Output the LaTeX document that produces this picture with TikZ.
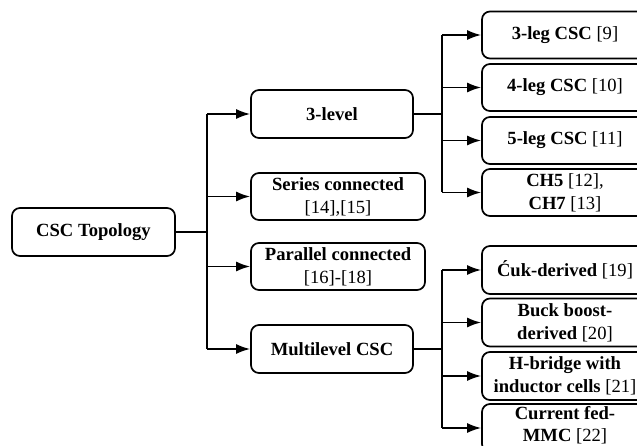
\documentclass[tikz,border=0pt]{standalone}
\usepackage{fontspec}
\setmainfont{Liberation Serif}
\usetikzlibrary{arrows.meta}
\begin{document}
\begin{tikzpicture}[x=1pt,y=-1pt,
 box/.style={draw,line width=1.7pt,rounded corners=8pt,align=center,
   font=\fontsize{18.6}{23}\selectfont,inner sep=0pt,minimum height=48pt},
 lbl/.style={align=center,font=\fontsize{18.6}{22}\selectfont,inner sep=0pt},
 conn/.style={line width=1.7pt},
 arr/.style={conn,-{Latex[length=14pt,width=10pt]}}]
\useasboundingbox (0,0) rectangle (637,446);
\begin{scope}
\clip (0,0) rectangle (637,446);
% root
\node[box,minimum width=163pt] (root) at (93.5,232) {\textbf{CSC Topology}};
% middle column
\node[box,minimum width=162pt] (lvl) at (332,114) {\textbf{3-level}};
\node[box,minimum width=174pt,minimum height=47pt] (ser) at (338,196.5) {\textbf{Series connected}\\{[14],[15]}};
\node[box,minimum width=174pt,minimum height=47pt] (par) at (338,266.5) {\textbf{Parallel connected}\\{[16]-[18]}};
\node[box,minimum width=162pt] (mlc) at (332,349) {\textbf{Multilevel CSC}};
% right column, top
\node[box,minimum width=166pt,minimum height=47pt] (r1) at (565,35) {\textbf{3-leg CSC} [9]};
\node[box,minimum width=166pt,minimum height=47pt] (r2) at (565,87.5) {\textbf{4-leg CSC} [10]};
\node[box,minimum width=166pt,minimum height=47pt] (r3) at (565,140.5) {\textbf{5-leg CSC} [11]};
\node[box,minimum width=166pt,minimum height=47pt] (r4) at (565,192.5) {\textbf{CH5} [12],\\\textbf{CH7} [13]};
% right column, bottom
\node[box,minimum width=166pt] (b1) at (565,270) {\textbf{Ćuk-derived} [19]};
\node[box,minimum width=166pt] (b2) at (565,322.5) {\textbf{Buck boost-}\\\textbf{derived} [20]};
\node[box,minimum width=166pt] (b3) at (565,376) {\textbf{H-bridge with}\\\textbf{inductor cells} [21]};
\node[box,minimum width=166pt] (b4) at (565,428) {};
\node[lbl] (b4t) at (565,425) {\textbf{Current fed-}\\\textbf{MMC} [22]};
% connectors from root
\coordinate (t1) at (207,232);
\draw[conn] (root.east) -- (t1);
\draw[conn] (t1 |- lvl.west) -- (t1 |- mlc.west);
\foreach \n in {lvl,ser,par,mlc} \draw[arr] (t1 |- \n.west) -- (\n.west);
% connectors from 3-level
\coordinate (t2) at (442,114);
\draw[conn] (lvl.east) -- (t2);
\draw[conn] (t2 |- r1.west) -- (t2 |- r4.west);
\foreach \n in {r1,r2,r3,r4} \draw[arr] (t2 |- \n.west) -- (\n.west);
% connectors from multilevel
\coordinate (t3) at (442,349);
\draw[conn] (mlc.east) -- (t3);
\draw[conn] (t3 |- b1.west) -- (t3 |- b4.west);
\foreach \n in {b1,b2,b3,b4} \draw[arr] (t3 |- \n.west) -- (\n.west);
\end{scope}
\end{tikzpicture}
\end{document}
